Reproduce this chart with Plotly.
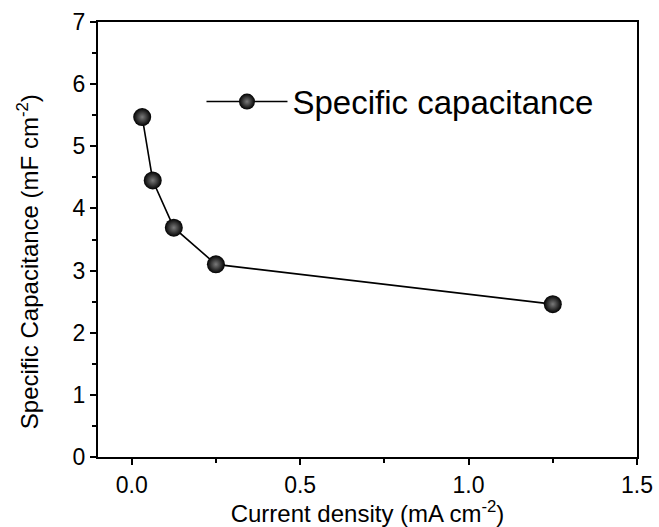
import plotly.graph_objects as go

current_density = [0.03125, 0.0625, 0.125, 0.25, 1.25]
capacitance = [5.47, 4.45, 3.69, 3.10, 2.46]
series_name = "Specific capacitance"
x_title = "Current density (mA cm<sup>-2</sup>)"
y_title = "Specific Capacitance (mF cm<sup>-2</sup>)"

FONT = "Liberation Sans, Arial, sans-serif"

fig = go.Figure()
fig.add_trace(go.Scatter(
    x=current_density, y=capacitance, mode="lines+markers", name=series_name,
    line=dict(color="black", width=1.6),
    marker=dict(size=18, color="black",
                gradient=dict(type="radial", color="#7a7a7a"),
                line=dict(width=0)),
))

axis_common = dict(
    showline=True, linecolor="black", linewidth=2, mirror=True,
    ticks="outside", ticklen=6, tickwidth=2, tickcolor="black",
    showgrid=False, zeroline=False, automargin=False,
    tickfont=dict(family=FONT, size=23, color="black"),
)

fig.update_xaxes(range=[-0.1, 1.5], tickvals=[0, 0.5, 1.0, 1.5],
                 ticktext=["0.0", "0.5", "1.0", "1.5"],
                 minor=dict(tickvals=[0.25, 0.75, 1.25], ticks="outside",
                            ticklen=4, tickwidth=2, tickcolor="black"),
                 title=dict(text=x_title, font=dict(family=FONT, size=24, color="black")),
                 **axis_common)
fig.update_yaxes(range=[0, 7], dtick=1,
                 minor=dict(dtick=0.5, ticks="outside", ticklen=4, tickwidth=2,
                            tickcolor="black"),
                 **axis_common)

fig.add_annotation(text=y_title, textangle=-90, xref="paper", yref="paper",
                   x=-0.13, y=0.45, xanchor="center", yanchor="middle",
                   showarrow=False, font=dict(family=FONT, size=24, color="black"))

fig.update_layout(
    width=659, height=527,
    margin=dict(l=98, r=22, t=22, b=70),
    paper_bgcolor="white", plot_bgcolor="white",
    showlegend=True,
    legend=dict(x=0.192, y=0.817, xanchor="left", yanchor="middle",
                bgcolor="rgba(0,0,0,0)", itemwidth=81,
                font=dict(family=FONT, size=33, color="black")),
)

fig.write_html("out.html", config={"displayModeBar": False},
               post_script="document.body.style.margin='0px';")
